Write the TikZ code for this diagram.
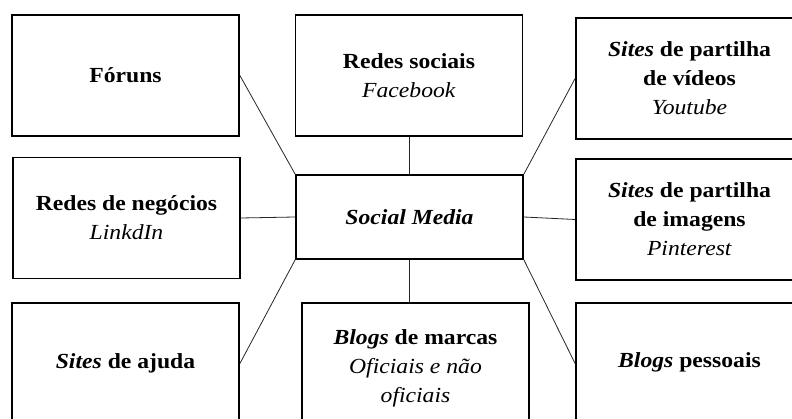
\documentclass[tikz,border=0pt]{standalone}
\usepackage{fontspec}
\setmainfont{Liberation Serif}[FakeStretch=1.1]
\usepackage{tikz}
\tikzset{
  mediabox/.style = {shape=rectangle, draw, line width=1.8pt, align=center,
                     minimum width=227pt, minimum height=121pt, inner sep=0pt},
  hub/.style      = {mediabox, minimum height=84pt},
  link/.style     = {draw, line width=0.8pt, black!85},
}

\begin{document}
\begin{tikzpicture}
  [
    x                 = 1pt,
    y                 = -1pt,
    every node/.style = {font=\fontsize{21.5}{29}\selectfont}
  ]
  \useasboundingbox (0,0) rectangle (792,419);
  \clip (0,0) rectangle (792,419);
  % centre
  \node [hub] (sm) at (409.5,217) {\textbf{\textit{Social Media}}};
  % left column
  \node [mediabox] (foruns)   at (125.5,75.5)  {\textbf{Fóruns}};
  \node [mediabox] (negocios) at (126.5,218)   {\textbf{Redes de negócios}\\\textit{LinkdIn}};
  \node [mediabox] (ajuda)    at (125.5,363.5) {\textbf{\textit{Sites} de ajuda}};
  % middle column
  \node [mediabox] (sociais)  at (409,75.5)    {\textbf{Redes sociais}\\\textit{Facebook}};
  \node [mediabox, minimum height=130pt] (marcas) at (415.5,368)
        {\textbf{\textit{Blogs} de marcas}\\\textit{Oficiais e não}\\\textit{oficiais}};
  % right column
  \node [mediabox] (videos)   at (689.5,78.5)  {\textbf{\textit{Sites} de partilha}\\\textbf{de vídeos}\\\textit{Youtube}};
  \node [mediabox] (imagens)  at (689.5,219.5) {\textbf{\textit{Sites} de partilha}\\\textbf{de imagens}\\\textit{Pinterest}};
  \node [mediabox] (pessoais) at (689.5,363.5) {\raisebox{7pt}{\textbf{\textit{Blogs} pessoais}}};
  % links
  \draw [link] (foruns.east)     -- (sm.north west);
  \draw [link] (sm.north)        -- (sm.north |- sociais.south);
  \draw [link] (sm.north east)   -- (videos.west);
  \draw [link] (negocios.east)   -- (sm.west);
  \draw [link] (sm.east)         -- (imagens.west);
  \draw [link] (sm.south west)   -- (ajuda.east);
  \draw [link] (sm.south)        -- (sm.south |- marcas.north);
  \draw [link] (sm.south east)   -- (pessoais.west);
\end{tikzpicture}
\end{document}
